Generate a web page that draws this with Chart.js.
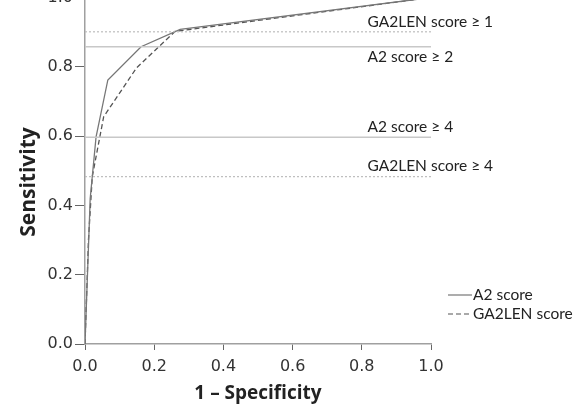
<!DOCTYPE html>
<html>
<head>
<meta charset="utf-8">
<script src="https://cdn.jsdelivr.net/npm/chart.js@4/dist/chart.umd.min.js"></script>
<style>
  html, body { margin: 0; padding: 0; background: #fff; overflow: hidden; }
  #wrap { position: relative; width: 581px; height: 405px; overflow: hidden; }
  #c { position: absolute; left: 0; top: -20px; }
</style>
</head>
<body>
<div id="wrap"><canvas id="c" width="581" height="425"></canvas></div>
<script>
// ROC curve data (1 - specificity, sensitivity)
const a2FPR = [0, 0.015, 0.032, 0.066, 0.162, 0.275, 1];
const a2TPR = [0, 0.42, 0.598, 0.762, 0.858, 0.908, 1];
const gaFPR = [0, 0.01, 0.021, 0.054, 0.149, 0.26, 1];
const gaTPR = [0, 0.30, 0.483, 0.656, 0.797, 0.902, 1];
const seriesNames = ['A2 score', 'GA2LEN score'];

// Reference (cut-off) lines
const refValues = [0.901, 0.858, 0.597, 0.483];
const refLabels = ['GA2LEN score \u2265 1', 'A2 score \u2265 2', 'A2 score \u2265 4', 'GA2LEN score \u2265 4'];
const refSeries = ['GA2LEN', 'A2', 'A2', 'GA2LEN'];

const tickValues = [0, 0.2, 0.4, 0.6, 0.8, 1.0];
const xTitle = '1 \u2013 Specificity';
const yTitle = 'Sensitivity';

// styles
const labelSide = [-1, 1, -1, -1];
const pts = (xs, ys) => xs.map((x, i) => ({x: x, y: ys[i]}));

const refDatasets = refValues.map((v, i) => ({
  label: refLabels[i],
  data: [{x: 0, y: v}, {x: 1, y: v}],
  borderColor: refSeries[i] === 'A2' ? '#c8c8c8' : '#bdbdbd',
  borderWidth: refSeries[i] === 'A2' ? 1.5 : 1.2,
  borderDash: refSeries[i] === 'A2' ? [] : [2, 2],
  pointRadius: 0,
  fill: false
}));

const textPlugin = {
  id: 'texts',
  afterDraw(chart) {
    const ctx = chart.ctx;
    const xs = chart.scales.x, ys = chart.scales.y;
    ctx.save();
    // reference labels
    ctx.font = '15.5px Lato';
    ctx.fillStyle = '#222';
    ctx.textAlign = 'left';
    ctx.textBaseline = 'middle';
    refValues.forEach((v, i) => {
      const y = ys.getPixelForValue(v) + labelSide[i] * 10.3;
      ctx.fillText(refLabels[i], xs.right - 63.5, y);
    });
    // legend
    const lx0 = xs.right + 17, lx1 = xs.right + 41;
    const ly = [315, 334];
    ctx.lineWidth = 1.2;
    ctx.strokeStyle = '#777';
    ctx.setLineDash([]);
    ctx.beginPath(); ctx.moveTo(lx0, ly[0]); ctx.lineTo(lx1, ly[0]); ctx.stroke();
    ctx.strokeStyle = '#555';
    ctx.setLineDash([5, 3]);
    ctx.beginPath(); ctx.moveTo(lx0, ly[1]); ctx.lineTo(lx1, ly[1]); ctx.stroke();
    ctx.setLineDash([]);
    ctx.fillText(seriesNames[0], lx1 + 1, ly[0]);
    ctx.fillText(seriesNames[1], lx1 + 1, ly[1]);
    // axis titles
    ctx.fillStyle = '#222';
    ctx.font = 'bold 19px "Open Sans"';
    ctx.textAlign = 'center';
    ctx.fillText(xTitle, (xs.left + xs.right) / 2, 414);
    ctx.save();
    ctx.translate(29.5, 202);
    ctx.rotate(-Math.PI / 2);
    ctx.font = 'bold 21px "Open Sans"';
    ctx.fillText(yTitle, 0, 0);
    ctx.restore();
    ctx.restore();
  }
};

new Chart(document.getElementById('c'), {
  type: 'line',
  data: {
    datasets: [
      ...refDatasets,
      {
        label: seriesNames[0],
        data: pts(a2FPR, a2TPR),
        borderColor: '#777',
        borderWidth: 1.3,
        pointRadius: 0,
        tension: 0,
        fill: false
      },
      {
        label: seriesNames[1],
        data: pts(gaFPR, gaTPR),
        borderColor: '#555',
        borderWidth: 1.3,
        borderDash: [5, 3],
        pointRadius: 0,
        tension: 0,
        fill: false
      }
    ]
  },
  options: {
    responsive: false,
    animation: false,
    devicePixelRatio: 1,
    layout: { padding: { left: 0, right: 150, top: 17.5, bottom: 0 } },
    plugins: { legend: { display: false }, tooltip: { enabled: false } },
    scales: {
      x: {
        type: 'linear', min: 0, max: 1,
        afterBuildTicks: s => { s.ticks = tickValues.map(v => ({value: v})); },
        afterFit: s => { s.height = 61; },
        ticks: { callback: v => Number(v).toFixed(1), font: { family: 'DejaVu Sans', size: 16 }, color: '#333', padding: 7, maxRotation: 0 },
        grid: { drawOnChartArea: false, tickLength: 6, color: '#666', lineWidth: 1 },
        border: { color: '#a0a0a0', width: 1.5 }
      },
      y: {
        type: 'linear', min: 0, max: 1,
        afterBuildTicks: s => { s.ticks = tickValues.map(v => ({value: v})); },
        afterFit: s => { s.width = 85; },
        ticks: { callback: v => Number(v).toFixed(1), font: { family: 'DejaVu Sans', size: 16 }, color: '#333', padding: 2 },
        grid: { drawOnChartArea: false, tickLength: 10, color: '#666', lineWidth: 1 },
        border: { color: '#a0a0a0', width: 1.5 }
      }
    }
  },
  plugins: [textPlugin]
});
</script>
</body>
</html>
